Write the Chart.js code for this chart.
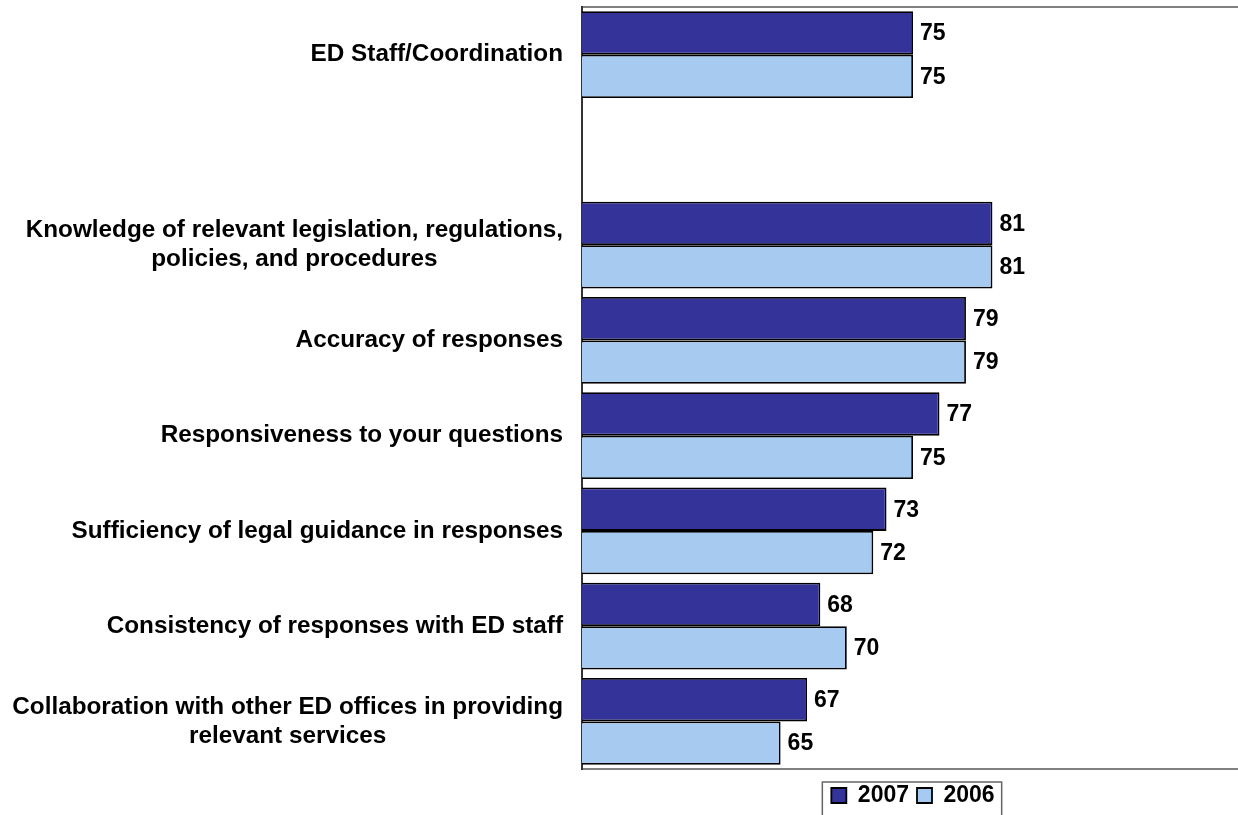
<!DOCTYPE html>
<html>
<head>
<meta charset="utf-8">
<title>ED Staff/Coordination</title>
<script src="https://cdn.jsdelivr.net/npm/chart.js@4/dist/chart.umd.min.js"></script>
<style>
    html, body { margin: 0; padding: 0; background: #fff; overflow: hidden; }
    #wrap { position: relative; width: 1244px; height: 817px; }
</style>
</head>
<body>
<div id="wrap"><canvas id="staffChart"></canvas></div>
<script>
(function() {
    'use strict';

    // Row labels (an empty row separates the overall item from the details)
    const categories = [
        ['ED Staff/Coordination'],
        [''],
        ['Knowledge of relevant legislation, regulations,', 'policies, and procedures'],
        ['Accuracy of responses'],
        ['Responsiveness to your questions'],
        ['Sufficiency of legal guidance in responses'],
        ['Consistency of responses with ED staff'],
        ['Collaboration with other ED offices in providing', 'relevant services']
    ];
    const values2007 = [75, null, 81, 79, 77, 73, 68, 67];
    const values2006 = [75, null, 81, 79, 75, 72, 70, 65];
    const seriesNames = ['2007', '2006'];

    const FONT = '"Liberation Sans", Arial, Helvetica, sans-serif';

    /**
     * Category labels: block right-aligned to the axis, lines centred in the block
     */
    const rowLabels = {
        id: 'rowLabels',
        afterDraw(chart) {
            const ctx = chart.ctx;
            const yScale = chart.scales.y;
            const right = chart.chartArea.left - 19;
            ctx.save();
            ctx.font = 'bold 24.3px ' + FONT;
            ctx.fillStyle = '#000';
            ctx.textAlign = 'center';
            ctx.textBaseline = 'middle';
            categories.forEach((lines, i) => {
                const cy = yScale.getPixelForTick(i);
                const maxW = Math.max(...lines.map(l => ctx.measureText(l).width));
                const cx = right - maxW / 2;
                lines.forEach((line, j) => {
                    ctx.fillText(line, cx, cy + (j - (lines.length - 1) / 2) * 29);
                });
            });
            ctx.restore();
        }
    };

    /**
     * Value printed at the end of every bar
     */
    const barValues = {
        id: 'barValues',
        afterDatasetsDraw(chart) {
            const ctx = chart.ctx;
            ctx.save();
            ctx.font = 'bold 23px ' + FONT;
            ctx.fillStyle = '#000';
            ctx.textAlign = 'left';
            ctx.textBaseline = 'middle';
            chart.data.datasets.forEach((ds, di) => {
                chart.getDatasetMeta(di).data.forEach((bar, i) => {
                    if (ds.data[i] == null) return;
                    ctx.fillText(String(ds.data[i]), bar.x + 7, bar.y + 1);
                });
            });
            ctx.restore();
        }
    };

    /**
     * Frame round the legend
     */
    const legendFrame = {
        id: 'legendFrame',
        afterDraw(chart) {
            const boxes = chart.legend && chart.legend.legendHitBoxes;
            if (!boxes || !boxes.length) return;
            const first = boxes[0];
            const last = boxes[boxes.length - 1];
            const ctx = chart.ctx;
            ctx.save();
            ctx.strokeStyle = '#666';
            ctx.lineWidth = 1.5;
            ctx.strokeRect(first.left - 9, first.top - 2, last.left + last.width + 7 - (first.left - 9), 60);
            ctx.restore();
        }
    };

    const ctx = document.getElementById('staffChart');

    new Chart(ctx, {
        type: 'bar',
        data: {
            labels: categories,
            datasets: [{
                label: seriesNames[0],
                data: values2007,
                backgroundColor: '#333399',
                borderColor: '#000',
                borderWidth: 1.8,
                borderSkipped: false
            }, {
                label: seriesNames[1],
                data: values2006,
                backgroundColor: '#A6CAF0',
                borderColor: '#000',
                borderWidth: 1.8,
                borderSkipped: false
            }]
        },
        options: {
            indexAxis: 'y',
            responsive: true,
            maintainAspectRatio: false,
            animation: false,
            categoryPercentage: 0.91,
            barPercentage: 1,
            layout: {
                padding: { top: 7, right: 0, bottom: 0, left: 0 }
            },
            plugins: {
                legend: {
                    position: 'bottom',
                    fullSize: false,
                    labels: {
                        boxWidth: 15,
                        boxHeight: 15,
                        padding: 8,
                        color: '#000',
                        font: { family: FONT, size: 23, weight: 'bold' }
                    }
                },
                tooltip: { enabled: false }
            },
            scales: {
                x: {
                    type: 'linear',
                    min: 50,
                    max: 100,
                    ticks: { display: false },
                    grid: { display: false },
                    border: { display: true, color: '#808080', width: 2 },
                    afterFit: function(scale) { scale.height = 7; }
                },
                xTop: {
                    type: 'linear',
                    position: 'top',
                    min: 50,
                    max: 100,
                    ticks: { display: false },
                    grid: { display: false },
                    border: { display: true, color: '#808080', width: 2 },
                    afterFit: function(scale) { scale.height = 0; }
                },
                y: {
                    type: 'category',
                    ticks: { display: false },
                    grid: { display: false },
                    border: { display: true, color: '#333', width: 2 },
                    afterFit: function(scale) { scale.width = 582; }
                }
            }
        },
        plugins: [rowLabels, barValues, legendFrame]
    });
})();
</script>
</body>
</html>
